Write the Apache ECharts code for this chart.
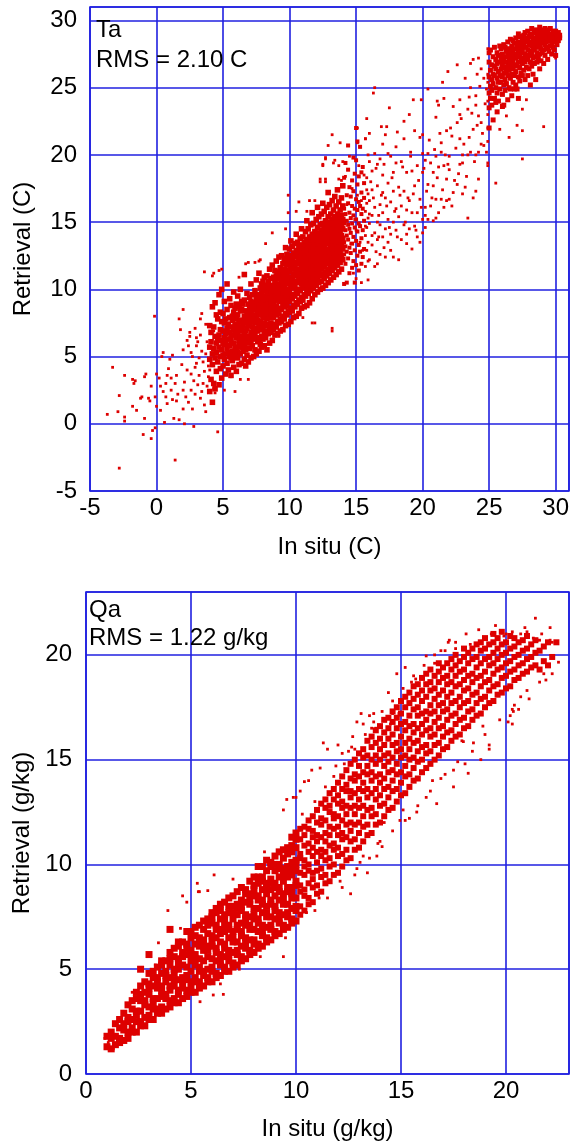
<!DOCTYPE html>
<html>
<head>
<meta charset="utf-8">
<script src="https://cdn.jsdelivr.net/npm/echarts@6/dist/echarts.min.js"></script>
<style>
html,body{margin:0;padding:0;background:#fff;}
#chart{width:572px;height:1145px;}
</style>
</head>
<body>
<div id="chart"></div>
<script>
// ---------- Panel 1: Ta ----------
const taTitle = 'Ta';
const taRms = 'RMS = 2.10 C';
const taXName = 'In situ (C)';
const taYName = 'Retrieval (C)';
const taRange = [-5, 31];
const taStep = 5;

// individually read sparse points [in situ, retrieval]
const taOutliers = [
[-3.7,0.7],[-3.3,4.2],[-2.9,0.9],[-2.8,-3.3],[-2.8,2.1],[-2.4,3.6],[-2.4,0.5],[-2.4,0.2],[-1.8,3.3],[-1.7,3.0],
[-1.6,3.2],[-1.8,1.3],[-1.5,1.0],[-1.2,1.9],[-1.1,2.0],[-0.9,3.5],[-0.8,3.7],[-1.0,-0.8],[-0.9,0.4],[-0.6,1.9],
[-0.5,1.7],[-0.4,-1.1],[-0.3,-0.5],[-0.4,2.8],[-0.15,8.0],[0.0,3.7],[-0.1,2.0],[0.0,1.3],[-0.1,-0.3],[0.2,3.4],
[0.3,2.8],[0.4,5.0],[0.5,5.3],[0.6,0.1],[0.7,2.0],[0.7,3.0],[0.8,1.5],[1.0,4.8],[1.1,2.5],[1.1,3.4],
[1.3,0.4],[1.4,-2.7],[1.4,3.0],[1.5,3.6],[1.7,7.8],[1.8,7.0],[2.0,8.5],[2.0,5.5],[2.0,2.5],[2.0,1.1],
[2.3,6.2],[2.5,6.8],[2.5,6.5],[2.6,5.3],[2.7,5.0],[2.6,2.5],[2.8,-0.2],[2.9,4.2],[3.0,4.5],[3.0,6.4],
[3.1,6.1],[3.3,7.8],[3.4,8.2],[3.5,3.0],[3.6,11.3],[3.7,0.9],[3.9,4.3],[4.0,4.0],[4.1,6.7],[4.3,6.9],
[4.3,11.2],[4.3,2.6],[4.4,2.3],[4.5,5.2],[4.6,-0.6],[4.9,11.5],[4.9,8.3],[5.1,2.5],[5.6,3.5],[5.9,2.4],
[6.3,3.3],[6.9,3.3],[6.9,12.0],[7.7,12.1],
[0.9,4.1],[1.2,1.8],[1.6,2.2],[1.9,4.4],[2.1,3.1],[2.2,2.0],[2.3,4.0],[2.4,1.6],[2.6,3.7],[2.7,1.1],
[2.8,3.2],[2.9,2.2],[3.0,5.8],[3.1,2.9],[3.2,4.9],[3.2,3.6],[3.3,1.9],[3.4,5.4],[3.4,2.4],[3.5,4.6],
[3.6,3.9],[3.6,1.4],[3.7,5.2],[3.8,2.8],[3.8,6.1],[3.9,3.5],[3.9,7.3],[1.5,1.7],[0.5,2.4],[1.7,0.3],
[2.1,0.0],[1.2,5.1],[0.3,1.0],[0.8,3.6],[2.4,5.8],[3.3,6.6],[2.9,7.1],[3.7,7.4],
[12.7,19.8],[12.5,19.3],[13.3,19.4],[13.7,19.2],[14.2,19.4],[14.4,18.9],[14.2,18.4],[12.3,18.2],[12.7,18.0],[13.7,18.2],
[13.9,18.1],[13.2,21.5],[12.9,20.7],[13.8,20.9],[14.4,20.7],[15.1,20.9],[15.3,20.6],[15.7,21.2],[15.1,22.0],[15.8,22.7],
[16.3,24.6],[16.4,25.0],[16.9,22.1],[17.3,22.1],[17.5,23.5],[17.2,21.5],[18.1,21.7],[18.6,22.5],[19.0,23.0],[19.3,24.1],
[19.9,24.1],[20.4,24.9],[21.1,24.0],[21.6,24.2],[21.2,23.7],[21.5,25.4],[21.9,26.2],[22.6,26.7],
[9.9,17.0],[9.9,15.7],[10.5,15.8],[10.7,16.5],[11.3,15.8],[11.5,16.6],[11.9,16.6],[12.3,18.0],[12.7,18.2],[12.5,19.2],
[12.7,19.7],[13.4,19.6],[14.0,19.5],[8.7,14.2],[9.7,14.5],[8.2,13.4],[7.4,12.0],[7.8,12.2],[6.7,11.9],[6.2,10.9],
[4.2,11.0],[4.7,11.4],[15.0,10.8],[15.4,10.5],[13.2,6.9],[13.2,7.1],[11.9,7.5],[11.0,7.9],[9.2,6.5],[11.7,7.5],
[14.3,16.3],[14.5,19.9],[14.6,13.4],[14.7,17.5],[14.8,11.2],[14.9,15.2],[15.0,14.4],[15.1,17.0],[15.2,19.2],[15.3,13.5],
[15.4,16.6],[15.5,12.9],[15.6,18.5],[15.7,14.7],[15.8,17.4],[15.9,12.1],[16.0,15.6],[16.1,18.0],[16.2,14.0],[16.3,16.8],
[16.5,12.8],[16.5,19.0],[16.7,15.5],[16.9,17.0],[17.1,13.1],[17.1,19.3],[17.3,16.2],[17.5,14.6],[17.7,18.3],[17.9,15.8],
[18.1,13.9],[18.3,17.0],[18.5,19.1],[18.7,15.0],[18.9,16.8],[19.1,20.2],[19.3,17.1],[19.5,14.4],[19.7,18.1],[19.9,16.1],
[20.1,19.0],[20.3,17.3],[20.5,21.1],[20.7,16.8],[20.9,20.4],[21.1,18.3],[21.3,21.6],[21.5,17.4],[21.7,20.0],[21.9,19.3],
[22.1,22.0],[22.3,17.2],[22.5,20.5],[22.7,18.6],[22.9,22.7],[23.1,20.8],[23.3,18.4],[23.5,21.3],[23.7,23.1],[23.9,19.5],
[24.1,22.2],[24.3,25.1],[24.5,21.6],[24.7,23.8],[24.1,26.0],[23.5,24.3],[22.3,23.6],[21.0,22.8],[20.0,21.5],[19.1,19.9],
[18.0,20.6],[17.0,20.8],[16.0,21.6],[16.7,13.9],[17.6,12.9],[18.8,14.1],[19.6,13.9],[20.2,14.6],[21.0,15.3],[21.8,16.6]
];

// dense core columns: [in situ, retrieval, retrieval, ...]
const taCoreRows = [
[4.0,2.4,4.8,5.7,7.3],[4.1,3.3,6.1,6.8],[4.2,1.6,4.4,5.2,8.7],[4.3,3.0,5.6,7.2],[4.4,2.6,4.9,6.5,9.0],
[4.5,3.9,5.3,6.0,8.1],[4.6,4.6,6.3,7.8],[4.7,2.9,5.7,6.6,9.6],[4.8,4.1,5.0,7.0,8.3],[4.9,3.4,5.5,6.2,7.6,10.0],
[5.0,4.3,5.1,6.0,6.9,8.2],[5.1,4.8,5.9,6.4,7.5,9.1],[5.2,3.7,5.2,6.2,6.7,7.8],[5.3,4.5,5.6,7.1,8.5,10.4],[5.4,4.0,5.3,6.3,7.4],
[5.5,5.0,5.8,6.8,7.9,9.3],[5.6,3.6,4.9,6.1,6.5,7.2,8.8],[5.7,4.7,5.4,6.6,7.7,8.0],[5.8,4.2,5.2,6.0,7.0,8.3,9.8],[5.9,5.1,5.7,6.9,7.3,8.6],
[6.0,3.9,5.6,6.4,7.1,7.8,8.9],[6.1,4.9,5.3,6.7,7.4,8.1,9.5],[6.2,4.4,5.9,6.2,7.0,7.6,8.7],[6.3,5.2,6.0,6.5,7.7,8.4,10.0],[6.4,4.5,5.7,6.9,7.2,8.5,9.1],
[6.5,5.4,6.1,7.3,7.6,8.9],[6.6,4.8,5.8,6.6,7.5,8.0,9.2,11.1],[6.7,4.3,5.5,6.3,6.9,7.9,8.4],[6.8,5.1,6.2,7.1,7.7,8.2,9.7],[6.9,4.6,6.0,6.5,7.4,8.1,8.9],
[7.0,5.6,6.4,7.3,7.9,8.6,9.4],[7.1,4.9,6.1,6.8,7.6,8.3,9.1,10.4],[7.2,5.8,6.6,7.2,8.1,8.7,9.6],[7.3,5.0,6.3,7.0,7.8,8.5,9.0],[7.4,5.5,6.7,7.5,8.0,8.8,9.9],
[7.5,5.2,6.4,7.1,7.8,8.6,9.3,10.7],[7.6,6.1,6.9,7.7,8.3,9.1,9.6],[7.7,5.4,6.2,7.3,8.1,8.7,9.5,11.2],[7.8,5.9,7.0,7.6,8.5,9.2,10.1],[7.9,5.7,6.5,7.4,8.3,8.9,9.7,10.4],
[8.0,6.3,7.1,7.9,8.6,9.4,10.0,10.6],[8.1,5.8,6.8,7.5,8.4,9.0,9.9,10.9],[8.2,6.4,7.3,8.1,8.7,9.5,10.3,9.2],[8.3,5.5,6.9,7.8,8.4,9.3,9.8,11.0],[8.4,6.7,7.4,8.2,9.0,9.6,10.6,10.1],
[8.5,6.0,7.1,7.9,8.8,9.3,10.2,11.5],[8.6,6.8,7.5,8.5,9.1,9.8,10.8,8.1],[8.7,6.2,7.2,8.1,8.9,9.7,10.3,11.8],[8.8,7.0,7.9,8.6,9.4,10.0,10.9,9.1],[8.9,6.6,7.4,8.3,9.2,9.8,10.5,11.4],
[9.0,7.2,8.1,8.7,9.5,10.3,11.0,12.1],[9.1,6.7,7.6,8.5,9.3,9.9,10.8,11.3],[9.2,7.5,8.2,9.1,9.6,10.4,11.1,12.4],[9.3,6.9,7.8,8.6,9.4,10.2,10.8,11.6],[9.4,7.6,8.5,9.1,10.0,10.5,11.4,12.5],
[9.5,7.0,8.0,8.9,9.7,10.3,11.1,11.9],[9.6,7.8,8.7,9.3,10.1,10.9,11.5,12.3],[9.7,7.3,8.2,9.0,9.9,10.6,11.3,12.1,13.1],[9.8,8.1,8.8,9.7,10.4,11.0,11.8,12.6],[9.9,7.4,8.4,9.4,10.0,10.8,11.4,12.2],
[10.0,8.3,9.1,9.8,10.6,11.3,11.9,13.0],[10.1,7.6,8.6,9.5,10.3,10.9,11.7,12.5,13.6],[10.2,8.4,9.3,10.1,10.7,11.5,12.2,13.2],[10.3,7.9,8.8,9.6,10.5,11.1,11.9,12.7],[10.4,8.7,9.5,10.2,11.0,11.6,12.4,13.4],
[10.5,8.0,9.0,9.9,10.6,11.4,12.0,12.9,14.1],[10.6,8.9,9.7,10.5,11.2,11.9,12.6,13.5],[10.7,8.2,9.2,10.0,10.9,11.5,12.3,13.1],[10.8,9.1,9.9,10.7,11.3,12.1,12.8,13.8],[10.9,8.6,9.4,10.4,11.1,11.8,12.5,13.3,14.5],
[11.0,9.2,10.1,10.8,11.6,12.2,13.0,13.9],[11.1,8.7,9.6,10.6,11.3,11.9,12.7,13.5],[11.2,9.5,10.3,11.0,11.8,12.5,13.2,14.3],[11.3,8.8,9.9,10.7,11.5,12.2,12.9,13.7,15.1],[11.4,9.7,10.5,11.3,12.0,12.7,13.4,14.5],
[11.5,9.0,10.2,11.0,11.7,12.4,13.1,13.9],[11.6,9.9,10.7,11.5,12.2,12.9,13.6,14.8],[11.7,9.3,10.4,11.2,11.9,12.6,13.3,14.1,15.7],[11.8,10.1,10.9,11.7,12.4,13.1,13.8,14.9],[11.9,9.6,10.6,11.4,12.1,12.8,13.5,14.3],
[12.0,10.3,11.1,11.9,12.6,13.3,14.0,15.2],[12.1,9.8,10.8,11.6,12.3,13.0,13.7,14.6,16.1],[12.2,10.5,11.3,12.1,12.8,13.5,14.2,15.4],[12.3,10.0,11.0,11.8,12.5,13.2,13.9,14.8],[12.4,10.6,11.5,12.2,12.9,13.7,14.4,15.6],
[12.5,10.1,11.1,12.0,12.6,13.4,14.1,14.9,16.4],[12.6,10.8,11.7,12.4,13.1,13.8,14.6,15.8],[12.7,10.3,11.3,12.1,12.8,13.5,14.3,15.1],[12.8,11.0,11.9,12.6,13.4,14.0,14.8,16.1],[12.9,10.5,11.5,12.3,13.0,13.7,14.5,15.4,17.2],
[13.0,11.2,12.0,12.8,13.5,14.2,15.0,16.3],[13.1,10.7,11.7,12.5,13.2,13.9,14.7,15.6],[13.2,11.4,12.2,13.0,13.7,14.4,15.2,16.6],[13.3,10.9,11.9,12.7,13.4,14.1,14.9,15.9],[13.4,11.6,12.4,13.2,13.9,14.6,15.4,16.9],
[13.5,11.1,12.1,12.9,13.6,14.3,15.1,16.2],[13.6,11.8,12.6,13.4,14.1,14.8,15.6,17.4],[13.7,11.3,12.3,13.1,13.8,14.5,15.3,16.5],[13.8,12.0,12.8,13.6,14.3,15.0,15.9],[13.9,11.5,12.5,13.3,14.0,14.7,15.5,16.8],
[14.0,12.2,13.0,13.8,14.5,15.2,16.2,17.7]
];

// upper-right warm cluster columns
const taClusterRows = [
[25.0,22.0,23.5,24.6,25.8,26.9,27.6],[25.1,24.2,25.1,26.3,27.8],[25.2,23.7,24.8,25.6,26.7],[25.3,22.6,25.3,26.0,27.3],[25.4,24.2,25.9,26.6,28.0],
[25.5,23.9,25.0,26.4,27.1],[25.6,23.2,24.6,25.7,26.8,27.6],[25.7,24.0,25.4,26.2,27.4],[25.8,24.9,25.9,26.9,28.1],[25.9,25.4,26.4,27.2,27.9],
[26.0,23.6,24.5,25.8,26.7,27.5],[26.1,23.7,25.2,26.1,27.0,28.2],[26.2,24.8,25.6,26.5,27.3,28.0],[26.3,25.3,26.2,26.9,27.7],[26.4,24.1,25.9,26.6,27.4,28.4],
[26.5,25.0,26.3,27.1,27.9],[26.6,24.9,25.7,26.8,27.6,28.6],[26.7,24.4,26.0,26.5,27.3,28.1],[26.8,25.4,26.4,27.0,27.8,28.5],[26.9,24.9,25.9,26.7,27.5,28.3],
[27.0,25.2,26.2,27.2,27.9,28.7],[27.1,24.9,26.6,27.4,28.2],[27.2,24.2,25.8,26.9,27.7,28.4,29.0],[27.3,25.5,26.5,27.3,28.0,28.8],[27.4,26.1,27.0,27.6,28.3],
[27.5,25.9,26.8,27.8,28.6],[27.6,26.3,27.2,28.1,28.9],[27.7,25.6,26.9,27.5,28.4,29.1],[27.8,26.5,27.3,28.0,28.7],[27.9,25.9,27.1,27.8,28.5,29.2],
[28.0,26.4,27.4,28.2,28.8],[28.1,25.2,26.9,27.7,28.4,29.0],[28.2,26.6,27.5,28.1,28.9,29.4],[28.3,26.0,27.2,28.0,28.6],[28.4,26.8,27.8,28.3,29.1],
[28.5,25.6,27.3,28.1,28.7,29.3],[28.6,26.9,27.6,28.4,29.0],[28.7,27.2,28.0,28.6,29.2],[28.8,26.4,27.5,28.2,28.9,29.5],[28.9,27.0,27.9,28.5,29.1],
[29.0,27.6,28.3,28.8,29.3],[29.1,26.8,27.8,28.6,29.0],[29.2,27.4,28.2,28.9,29.4],[29.3,27.9,28.4,29.1],[29.4,27.1,28.0,28.7,29.3],
[29.5,27.7,28.5,29.0],[29.6,28.1,28.8,29.4],[29.7,27.5,28.3,28.9],[29.8,28.0,28.6,29.2],[29.9,27.8,28.4,29.0],
[30.0,27.4,28.7,29.2],[30.1,28.2,28.8],[30.2,28.5,29.1],[30.3,28.7,28.9]
];

// sparse columns between the core and the cluster
const taSparseRows = [
[14.1,10.4,12.6,13.5,14.9,16.0,18.3],[14.2,11.9,13.2,14.4,15.6,19.4],[14.3,10.5,12.8,14.0,15.1,17.0],[14.4,12.3,13.7,14.8,16.4,18.9,20.7],[14.5,11.2,13.1,14.5,15.7,17.6],
[14.6,12.7,14.2,15.3,16.9],[14.7,11.6,13.4,14.9,16.2,18.1],[14.8,12.1,13.9,15.5,17.3,19.8],[14.9,10.5,12.9,14.6,16.0,18.6],[15.0,11.8,13.6,15.2,16.7,19.6,22.0],
[15.1,12.5,14.3,15.9,17.8,21.0],[15.2,11.4,13.3,14.9,16.5,18.4],[15.3,12.8,14.7,16.2,20.6],[15.4,11.9,13.8,15.6,17.2,18.7],[15.5,12.4,14.4,16.0,19.1],
[15.6,13.0,15.1,16.8,17.9],[15.7,11.7,14.0,15.8,21.2],[15.8,12.9,14.6,16.4,18.3],[15.9,10.7,13.5,15.3,17.1,20.0],[16.0,12.2,14.9,16.6,19.5],
[16.2,13.3,15.5,17.4,18.8],[16.4,11.7,14.2,16.1,20.1],[16.6,11.9,13.7,15.0,17.7,19.3],[16.8,12.6,14.8,16.3,19.7],[17.0,13.9,15.7,17.2,18.5],
[17.2,12.4,14.5,16.8],[17.4,13.5,15.2,17.9,20.1],[17.6,14.1,16.5,19.9],[17.8,12.4,15.0,17.3,18.7],[18.0,14.4,16.0,19.4],
[18.2,12.2,15.4,17.6],[18.4,13.7,16.2,19.5],[18.6,14.8,17.3,21.2],[18.8,13.4,15.9,18.7],[19.0,14.5,16.6],
[19.2,13.0,15.7,18.8],[19.4,14.7,17.7,21.8],[19.6,15.7,19.2],[19.8,13.5,16.7,21.3],[20.0,14.2,15.2,18.7,20.1],
[20.2,15.5,16.1,19.6],[20.4,15.2,17.8,20.1],[20.6,16.2,19.4],[20.8,15.1,17.7,18.7],[21.0,16.7,19.9],
[21.2,15.7,19.1],[21.4,16.7,20.2,20.9],[21.6,16.1,19.2],[21.8,18.2,21.8],[22.0,16.7,18.9,19.9],
[22.2,16.2,21.4],[22.4,18.1],[22.6,17.8,22.4],[22.8,19.3,21.2,23.0,24.1],[23.0,17.1,19.4,20.0],
[23.2,17.6,25.7],[23.4,15.3,20.0,23.4],[23.6,20.2,25.0,26.8],[23.8,16.8,21.9,27.1],[24.0,17.3,20.0,23.7,24.4],
[24.2,18.2,20.2,22.9,27.2],[24.4,20.8,22.4,26.4],[24.6,20.7,25.7],[24.8,20.2,24.9],[24.9,19.2,19.4,21.0,22.0,23.0,24.0,25.4,26.0,27.9],
[25.5,17.9],[25.8,21.9],[26.3,22.9],[26.5,21.3],[27.1,22.2],[27.5,19.7,21.8,23.4],[27.8,24.1],[29.1,22.1],[30.0,27.2]
];

// ---------- Panel 2: Qa ----------
const qaTitle = 'Qa';
const qaRms = 'RMS = 1.22 g/kg';
const qaXName = 'In situ (g/kg)';
const qaYName = 'Retrieval (g/kg)';
const qaRange = [0, 23];
const qaStep = 5;

const qaOutliers = [
[3.9,7.8],[4.6,8.5],[4.8,8.2],[5.3,9.1],[4.0,6.95],[4.5,6.95],[3.45,6.26],[3.05,5.7],[2.6,5.0],[6.54,3.8],
[6.06,3.77],[5.43,3.45],[9.4,5.6],[9.5,6.5],[9.7,7.0],[6.1,9.5],[5.8,8.75],[5.35,8.7],[5.4,8.7],[7.0,9.3],
[9.4,12.6],[9.56,13.1],[9.87,13.2],[10.2,13.5],[10.4,13.95],[10.6,14.0],[10.75,14.5],[11.15,14.6],[11.3,15.8],[11.5,15.5],
[12.0,15.7],[12.2,15.3],[12.5,15.4],[12.65,15.6],[12.7,16.1],[12.9,16.8],[13.2,16.7],[13.1,17.2],[13.5,17.1],[13.7,17.2],
[13.8,16.5],[14.5,16.7],[14.6,17.2],[14.9,17.2],[16.7,12.9],[16.2,13.2],[15.75,12.5],[14.95,12.1],[15.4,12.2],[16.5,14.0],
[17.5,13.7],[17.5,14.5],[18.2,14.35],[18.05,14.8],[18.8,15.0],[19.2,15.5],[19.2,15.7],[17.9,15.9],[18.45,15.8],[14.2,12.0],
[13.9,11.0],[14.1,10.85],[13.4,9.6],[13.85,10.4],[13.05,10.1],[12.1,9.2],[11.6,9.2],[13.2,10.4],[12.6,8.6],[10.0,13.2],
[21.4,21.75],[22.1,21.3],[19.5,21.4],[17.3,20.7],[22.5,19.65],[21.0,21.1],[21.5,20.7],[22.2,20.6],[22.4,20.6],[21.8,19.1],
[21.9,18.8],[21.1,17.9],[20.7,18.0],[20.3,17.4],[20.6,17.4],[20.2,17.1],[20.1,16.8],[20.3,16.7],[18.9,16.6],[17.97,15.86],
[19.3,21.0],[20.0,21.0],[20.3,21.1],[20.7,21.0],[21.3,20.8],[21.6,20.7],[22.1,20.7],[17.25,20.6],[16.9,20.2],[16.2,19.95],
[15.2,19.4],[15.7,18.85],[14.8,19.1],[14.4,18.2],[20.35,17.3],[16.6,19.6],[18.3,20.5],[19.9,20.9],[21.7,21.0],[20.9,21.3],
[0.9,1.7],[1.1,1.2],[1.3,1.2],[1.06,1.5],[1.5,1.6],[2.2,3.9],[3.3,5.2],[6.4,4.3],[7.3,5.0],[8.3,5.6],
[11.1,8.4],[10.5,7.7],[12.9,9.8],[15.1,12.6],[16.9,14.1],[11.9,14.7],[13.6,16.5],[15.5,18.7],[17.6,20.3],[8.5,10.6],
[10.3,12.4],[10.9,13.0],[11.4,13.7],[11.8,14.2],[12.3,14.8],[12.8,15.5],[13.3,16.2],[13.7,16.8],[14.1,17.3],[14.6,17.8],
[15.1,18.4],[15.6,19.0],[16.1,19.5],[16.6,20.0],[17.1,20.2],[17.6,20.6],[18.1,21.0],[18.7,21.2],
[10.9,7.8],[11.5,8.4],[12.2,8.9],[12.8,9.5],[13.5,10.3],[14.0,11.1],[14.6,11.6],[15.2,12.1],[15.8,12.8],[16.4,13.5],
[17.1,14.3],[17.7,14.9],[18.4,15.4],[19.0,16.2],[19.7,16.9],[20.4,17.6],[21.0,18.3],[21.6,18.7],[22.2,19.1]
];

// dense band columns: [in situ, retrieval, retrieval, ...]
const qaCoreRows = [
[1.0,1.3,1.8],[1.2,1.2,1.7,2.0],[1.4,1.4,1.8,2.4],[1.6,1.5,1.7,2.2,2.6],[1.8,1.6,2.1,2.4,2.9],
[2.0,1.7,2.0,2.5,2.7,3.3],[2.2,2.0,2.2,2.6,3.1,3.5],[2.4,2.0,2.5,2.8,3.0,3.6,3.9],[2.6,2.3,2.5,3.0,3.5,3.8,4.2,5.0],[2.8,2.3,2.7,3.3,3.5,3.9,4.4],
[3.0,2.6,2.8,3.2,3.8,4.1,4.3,4.8,5.7],[3.2,2.6,3.1,3.4,3.6,4.2,4.6,4.9],[3.4,2.9,3.1,3.6,4.1,4.4,4.6,5.1],[3.6,2.9,3.2,3.7,4.0,4.2,4.8,5.2,5.4],[3.8,3.1,3.6,3.8,4.4,4.7,4.9,5.4],
[4.0,3.2,3.5,4.0,4.2,4.6,5.2,5.5,5.8,6.9],[4.2,3.4,3.6,4.2,4.5,4.8,5.0,5.6,6.0],[4.4,3.4,3.8,4.0,4.5,5.0,5.3,5.5,6.1,6.3],[4.6,3.6,4.1,4.4,4.6,5.2,5.6,5.8,6.3],[4.8,3.7,4.0,4.5,4.7,5.1,5.7,6.0,6.2,6.8],
[5.0,3.9,4.1,4.4,4.9,5.4,5.7,5.9,6.5,6.8],[5.2,3.9,4.4,4.6,5.2,5.5,5.7,6.2,6.6,7.0],[5.4,4.1,4.4,4.9,5.1,5.5,6.1,6.3,6.5,7.1],[5.6,4.2,4.7,4.9,5.4,5.9,6.1,6.4,6.9,7.3],[5.8,4.4,4.6,5.0,5.6,5.9,6.1,6.7,7.1,7.4],
[6.0,4.4,4.9,5.1,5.5,6.1,6.3,6.6,7.2,7.5,7.7],[6.2,4.6,4.8,5.4,5.8,6.0,6.5,6.9,7.1,7.7,7.9],[6.4,4.7,5.2,5.4,5.7,6.3,6.7,6.9,7.4,7.8,8.1],[6.6,4.9,5.1,5.6,6.0,6.2,6.8,7.1,7.4,7.6,8.2],[6.8,4.9,5.4,5.7,5.9,6.5,6.9,7.1,7.7,8.0,8.4],
[7.0,5.1,5.3,5.8,6.3,6.5,6.8,7.4,7.7,8.0,8.5],[7.2,5.2,5.7,5.9,6.3,6.9,7.1,7.6,7.9,8.1,8.7],[7.4,5.4,5.6,6.1,6.6,6.8,7.2,7.8,8.0,8.3,8.9],[7.6,5.5,6.0,6.3,6.5,7.1,7.4,7.6,8.2,8.6,8.8],[7.8,5.7,5.9,6.4,6.9,7.1,7.5,8.1,8.3,8.6,9.2],
[8.0,5.8,6.2,6.4,6.9,7.4,7.6,7.9,8.5,8.8,9.0,9.4],[8.2,6.0,6.2,6.8,7.2,7.4,7.9,8.3,8.5,9.1,9.4,9.9],[8.4,6.1,6.6,6.8,7.1,7.7,8.1,8.3,8.8,9.2,9.4,9.9],[8.6,6.3,6.5,7.0,7.5,7.7,8.0,8.6,8.9,9.1,9.7,10.2],[8.8,6.4,6.9,7.1,7.5,8.1,8.3,8.8,9.1,9.3,9.9,10.1],
[9.0,6.6,6.8,7.4,7.8,8.0,8.5,8.9,9.1,9.7,10.0,10.4],[9.2,6.7,7.2,7.4,7.7,8.3,8.7,8.9,9.4,9.8,10.0,10.6],[9.4,6.9,7.1,7.6,8.1,8.3,8.6,9.2,9.5,9.8,10.3,10.7],[9.6,7.0,7.5,7.7,8.1,8.7,8.9,9.4,9.7,9.9,10.5,10.8],[9.8,7.2,7.4,7.9,8.4,8.6,8.9,9.5,9.8,10.1,10.6,10.9,11.3],
[10.0,7.3,7.8,8.0,8.4,9.0,9.2,9.7,10.0,10.2,10.8,11.2,11.5],
[10.2,7.6,8.0,8.7,9.0,9.6,10.3,10.5,11.2,11.7],[10.4,7.8,8.5,8.8,9.5,9.9,10.2,10.9,11.4,11.8],[10.6,8.1,8.4,9.1,9.7,10.0,10.6,11.0,11.7,12.1],[10.8,8.2,8.9,9.3,9.6,10.4,10.8,11.3,11.6,12.3],[11.0,8.6,9.0,9.7,10.1,10.6,11.1,11.4,12.0,12.6],
[11.2,8.7,9.4,9.8,10.4,10.7,11.3,11.9,12.2,12.9],[11.4,9.1,9.5,10.2,10.6,11.1,11.5,12.1,12.7,13.1],[11.6,9.2,9.9,10.3,10.9,11.4,11.8,12.5,12.8,13.4],[11.8,9.5,10.0,10.7,11.0,11.7,12.2,12.4,13.1,13.6],[12.0,9.6,10.4,10.8,11.4,11.8,12.3,12.9,13.3,13.9],
[12.2,9.9,10.5,11.2,11.5,12.1,12.7,13.0,13.6,14.2],[12.4,10.2,10.7,11.3,11.9,12.4,12.8,13.5,13.8,14.5],[12.6,10.3,11.1,11.6,12.0,12.7,13.2,13.5,14.1,14.8],[12.8,10.7,11.2,11.9,12.4,12.8,13.4,14.0,14.3,15.0],[13.0,10.8,11.5,12.0,12.7,13.1,13.6,14.2,14.7,15.3],
[13.2,11.1,11.8,12.3,12.8,13.5,13.9,14.4,15.1,15.5],[13.4,11.4,11.9,12.6,13.2,13.6,14.3,14.7,15.2,15.9],[13.6,11.5,12.3,12.7,13.4,14.0,14.4,15.0,15.6,16.1],[13.8,11.9,12.4,13.1,13.6,14.2,14.8,15.2,15.8,16.4],[14.0,12.0,12.8,13.3,13.9,14.3,15.0,15.5,16.0,16.6],
[14.2,12.3,12.9,13.6,14.1,14.7,15.2,15.7,16.3,16.9],[14.4,12.6,13.2,13.7,14.4,14.9,15.3,16.0,16.5,17.0],[14.6,12.7,13.5,14.0,14.5,15.1,15.7,16.2,16.8,17.3],[14.8,13.0,13.6,14.3,14.8,15.4,15.8,16.5,17.0,17.5],[15.0,13.3,13.9,14.4,15.1,15.5,16.1,16.7,17.2,17.8],
[15.2,13.4,14.2,14.7,15.2,15.8,16.4,16.8,17.5,18.0],[15.4,13.7,14.3,15.0,15.5,16.0,16.6,17.1,17.7,18.2],[15.6,14.0,14.6,15.1,15.8,16.3,16.7,17.4,17.9,18.5],[15.8,14.1,14.9,15.4,15.9,16.5,17.1,17.5,18.1,18.6],[16.0,14.4,15.0,15.6,16.2,16.7,17.2,17.8,18.3,18.9],
[16.2,14.6,15.3,15.7,16.4,16.9,17.3,18.0,18.6,19.1],[16.4,14.8,15.4,16.1,16.5,17.2,17.6,18.3,18.7,19.3],[16.6,15.0,15.7,16.2,16.8,17.3,17.9,18.4,19.0],[16.8,15.2,15.8,16.5,17.0,17.6,18.1,18.7,19.2,19.6],[17.0,15.5,16.1,16.6,17.3,17.7,18.3,18.9,19.4],
[17.2,15.6,16.3,16.9,17.4,18.0,18.6,19.0,19.6],[17.4,15.9,16.4,17.1,17.7,18.2,18.7,19.3,19.8],[17.6,16.1,16.7,17.2,17.8,18.5,19.0,19.5,20.0],[17.8,16.2,16.9,17.5,18.0,18.6,19.2,19.7],[18.0,16.5,17.0,17.7,18.3,18.8,19.3,19.9,20.3],
[18.2,16.6,17.3,17.8,18.4,19.0,19.6,20.1],[18.4,16.9,17.4,18.1,18.7,19.1,19.8,20.3],[18.6,17.1,17.7,18.2,18.9,19.4,19.9,20.5],[18.8,17.2,17.9,18.5,19.0,19.6,20.2,20.6],[19.0,17.5,18.0,18.7,19.2,19.8,20.3,20.8],
[19.2,17.7,18.3,18.8,19.5,19.9,20.5],[19.4,17.8,18.5,19.1,19.6,20.1,20.6,21.0],[19.6,18.1,18.6,19.3,19.8,20.3,20.8],[19.8,18.2,18.9,19.4,20.0,20.5,21.1],[20.0,18.4,19.0,19.6,20.1,20.6],
[20.2,18.5,19.2,19.7,20.3,20.9],[20.4,18.8,19.3,19.9,20.4,20.8],[20.6,18.9,19.5,20.0,20.6],[20.8,19.1,19.6,20.2,20.7],[21.0,19.2,19.8,20.3,20.9],
[21.2,19.4,19.9,20.5],[21.4,19.5,20.1,20.7],[21.6,19.3,20.2],[21.8,19.7,20.4],[22.0,19.5,20.6],[22.2,19.9],[22.4,20.6]
];

// ---------- build ----------
function expand(rows) {
  const out = [];
  rows.forEach(r => { for (let i = 1; i < r.length; i++) out.push([r[0], r[i]]); });
  return out;
}

const FONT = "'Liberation Sans', Arial, Helvetica, sans-serif";
const BLUE = '#2020e0';
const RED = '#dd0000';
const FS = 24;

function xAx(gi, range, step, name, gap) {
  return {
    gridIndex: gi, type: 'value', min: range[0], max: range[1], interval: step,
    name: name, nameLocation: 'middle', nameGap: gap,
    nameTextStyle: { fontSize: FS, color: '#000', fontFamily: FONT },
    axisLine: { show: false }, axisTick: { show: false },
    axisLabel: { fontSize: FS, color: '#000', fontFamily: FONT, margin: 5, showMaxLabel: false },
    splitLine: { show: true, lineStyle: { color: BLUE, width: 1.6 } }
  };
}
function yAx(gi, range, step, name, gap, margin) {
  return {
    gridIndex: gi, type: 'value', min: range[0], max: range[1], interval: step,
    name: name, nameLocation: 'middle', nameGap: gap,
    nameTextStyle: { fontSize: FS, color: '#000', fontFamily: FONT },
    axisLine: { show: false }, axisTick: { show: false },
    axisLabel: { fontSize: FS, color: '#000', fontFamily: FONT, margin: margin, showMaxLabel: false },
    splitLine: { show: true, lineStyle: { color: BLUE, width: 1.6 } }
  };
}
function ttl(text, left, top) {
  return { text: text, left: left, top: top, padding: 0,
    textStyle: { fontSize: FS, fontWeight: 'normal', color: '#000', fontFamily: FONT } };
}
function dots(xi, data, size) {
  return { type: 'scatter', xAxisIndex: xi, yAxisIndex: xi, silent: true, data: data,
    symbol: 'rect', symbolSize: size, itemStyle: { color: RED, opacity: 1 }, z: 3 };
}

const qaLow = qaCoreRows.filter(r => r[0] <= 10);
const qaHigh = qaCoreRows.filter(r => r[0] > 10);
const taTaper = taSparseRows.filter(r => r[0] <= 15.6);
const taThin = taSparseRows.filter(r => r[0] > 15.6);

const chart = echarts.init(document.getElementById('chart'), null, { renderer: 'canvas' });
chart.setOption({
  animation: false,
  backgroundColor: '#fff',
  title: [
    ttl(taTitle, 96, 18), ttl(taRms, 96, 48),
    ttl(qaTitle, 89, 598), ttl(qaRms, 89, 626)
  ],
  grid: [
    { left: 90, right: 0, top: 7, bottom: 654, show: true, borderColor: BLUE, borderWidth: 1.6, containLabel: false },
    { left: 86, right: 3, top: 592, bottom: 71, show: true, borderColor: BLUE, borderWidth: 1.6, containLabel: false }
  ],
  xAxis: [
    xAx(0, taRange, taStep, taXName, 44),
    xAx(1, qaRange, qaStep, qaXName, 43)
  ],
  yAxis: [
    yAx(0, taRange, taStep, taYName, 55, 13),
    yAx(1, qaRange, qaStep, qaYName, 51, 14)
  ],
  series: [
    dots(0, expand(taCoreRows), 5.6),
    dots(0, expand(taClusterRows), 5),
    dots(0, expand(taTaper), 4),
    dots(0, expand(taThin).concat(taOutliers), 2.8),
    dots(1, expand(qaLow), 7),
    dots(1, expand(qaHigh), 6),
    dots(1, qaOutliers, 2.8)
  ]
});
</script>
</body>
</html>
